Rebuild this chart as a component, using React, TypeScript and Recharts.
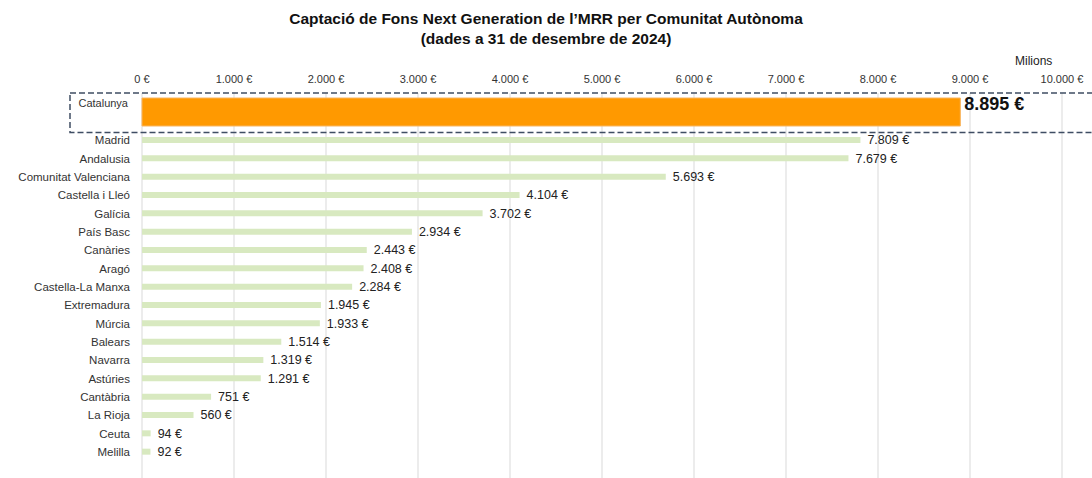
import { Bar, BarChart, CartesianGrid, LabelList, XAxis, YAxis } from 'recharts';

const topRegion = ['Catalunya'];
const topValue = [8895];

const regions = [
  'Madrid',
  'Andalusia',
  'Comunitat Valenciana',
  'Castella i Lleó',
  'Galícia',
  'País Basc',
  'Canàries',
  'Aragó',
  'Castella-La Manxa',
  'Extremadura',
  'Múrcia',
  'Balears',
  'Navarra',
  'Astúries',
  'Cantàbria',
  'La Rioja',
  'Ceuta',
  'Melilla',
];
const values = [7809, 7679, 5693, 4104, 3702, 2934, 2443, 2408, 2284, 1945, 1933, 1514, 1319, 1291, 751, 560, 94, 92];

const xTicks = [0, 1000, 2000, 3000, 4000, 5000, 6000, 7000, 8000, 9000, 10000];

const FONT = '"Liberation Sans", Arial, sans-serif';
const GRID = '#d9d9d9';

const fmt = (v: number) => `${String(v).replace(/\B(?=(\d{3})+(?!\d))/g, '.')} €`;

const topData = topRegion.map((name, i) => ({ name, value: topValue[i] }));
const data = regions.map((name, i) => ({ name, value: values[i] }));

function TopTick(props: any) {
  const { x, y, payload } = props;
  return (
    <text x={x - 12} y={y - 5} textAnchor="end" fontSize={11} fill="#333" fontFamily={FONT}>
      {payload.value}
    </text>
  );
}

function TopLabel(props: any) {
  const { x, y, width, value } = props;
  return (
    <text x={x + width + 4} y={y + 12} fontSize={18} fontWeight="bold" fill="#111" fontFamily={FONT}>
      {fmt(value)}
    </text>
  );
}

export default function App() {
  return (
    <div
      style={{
        position: 'absolute',
        left: 0,
        top: 0,
        width: 1092,
        height: 478,
        background: '#fff',
        fontFamily: FONT,
        overflow: 'hidden',
      }}
    >
      <div
        style={{
          position: 'absolute',
          top: 9,
          left: 0,
          width: 1092,
          textAlign: 'center',
          fontWeight: 'bold',
          fontSize: 15.5,
          lineHeight: '20px',
          color: '#111',
        }}
      >
        <div>Captació de Fons Next Generation de l’MRR per Comunitat Autònoma</div>
        <div>(dades a 31 de desembre de 2024)</div>
      </div>
      <div style={{ position: 'absolute', top: 54, left: 1015, fontSize: 12, color: '#222' }}>Milions</div>

      <div style={{ position: 'absolute', top: 60, left: 0 }}>
        <BarChart
          width={1092}
          height={71}
          data={topData}
          layout="vertical"
          margin={{ top: 0, right: 30, bottom: 0, left: 0 }}
        >
          <CartesianGrid stroke={GRID} horizontal={false} />
          <XAxis
            type="number"
            orientation="top"
            domain={[0, 10000]}
            ticks={xTicks}
            tickFormatter={fmt}
            tick={{ fontSize: 11, fill: '#333', fontFamily: FONT }}
            tickLine={false}
            axisLine={false}
            tickSize={0}
            tickMargin={10}
            height={33}
          />
          <YAxis
            type="category"
            dataKey="name"
            width={142}
            tick={<TopTick />}
            tickLine={false}
            axisLine={false}
            tickSize={0}
          />
          <Bar dataKey="value" fill="#ff9900" stroke="#f8b560" strokeWidth={1} barSize={28} isAnimationActive={false}>
            <LabelList dataKey="value" content={<TopLabel />} />
          </Bar>
        </BarChart>
      </div>

      <div style={{ position: 'absolute', top: 131, left: 0 }}>
        <BarChart
          width={1092}
          height={347}
          data={data}
          layout="vertical"
          margin={{ top: 0, right: 30, bottom: 0, left: 0 }}
        >
          <CartesianGrid stroke={GRID} horizontal={false} />
          <XAxis type="number" domain={[0, 10000]} ticks={xTicks} hide />
          <YAxis
            type="category"
            dataKey="name"
            width={142}
            tick={{ fontSize: 11.5, fill: '#333', fontFamily: FONT }}
            tickLine={false}
            axisLine={false}
            tickSize={0}
            tickMargin={12}
            padding={{ top: 0, bottom: 17 }}
            interval={0}
          />
          <Bar dataKey="value" fill="#d8e9c0" barSize={6} isAnimationActive={false}>
            <LabelList
              dataKey="value"
              position="right"
              offset={7}
              formatter={(v: any) => fmt(Number(v))}
              style={{ fontSize: 12.5, fill: '#222', fontFamily: FONT }}
            />
          </Bar>
        </BarChart>
      </div>

      <svg
        width={1092}
        height={478}
        style={{ position: 'absolute', left: 0, top: 0, pointerEvents: 'none' }}
      >
        <rect
          x={70}
          y={93}
          width={1040}
          height={39.5}
          fill="none"
          stroke="#3f4d63"
          strokeWidth={1.5}
          strokeDasharray="6 3"
        />
      </svg>
    </div>
  );
}
